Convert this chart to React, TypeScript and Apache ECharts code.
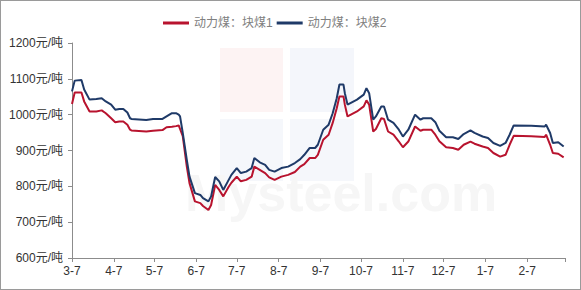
import React, { useEffect, useRef } from "react";
import * as echarts from "echarts";

const seriesNames = ["动力煤：块煤1", "动力煤：块煤2"];

const sampleDates = [
  "2022-03-07", "2022-03-09", "2022-03-14", "2022-03-16", "2022-03-20", "2022-03-25", "2022-03-29",
  "2022-04-01", "2022-04-05", "2022-04-08", "2022-04-11", "2022-04-14", "2022-04-17", "2022-04-19", "2022-04-20",
  "2022-05-01", "2022-05-06", "2022-05-13", "2022-05-16", "2022-05-20", "2022-05-23", "2022-05-25", "2022-05-26",
  "2022-05-28", "2022-05-31", "2022-06-02", "2022-06-06", "2022-06-10", "2022-06-12", "2022-06-16", "2022-06-18",
  "2022-06-21", "2022-06-24", "2022-06-27", "2022-07-01", "2022-07-03", "2022-07-07", "2022-07-10", "2022-07-14",
  "2022-07-18", "2022-07-20", "2022-07-24", "2022-07-28", "2022-07-31", "2022-08-04", "2022-08-09", "2022-08-14",
  "2022-08-19", "2022-08-23", "2022-08-26", "2022-08-30", "2022-09-03", "2022-09-05", "2022-09-09", "2022-09-13",
  "2022-09-16", "2022-09-19", "2022-09-21", "2022-09-24", "2022-09-25", "2022-09-27", "2022-10-04", "2022-10-09",
  "2022-10-11", "2022-10-13", "2022-10-16", "2022-10-18", "2022-10-22", "2022-10-24", "2022-10-27", "2022-10-31",
  "2022-11-04", "2022-11-07", "2022-11-11", "2022-11-16", "2022-11-20", "2022-11-22", "2022-11-28", "2022-12-01",
  "2022-12-04", "2022-12-09", "2022-12-14", "2022-12-18", "2022-12-22", "2022-12-27", "2022-12-30", "2023-01-05",
  "2023-01-09", "2023-01-13", "2023-01-18", "2023-01-22", "2023-01-25", "2023-01-28", "2023-02-10", "2023-02-20",
  "2023-02-21", "2023-02-24", "2023-02-26", "2023-03-02", "2023-03-06",
];

const coal1 = [
  1030, 1062, 1062, 1037, 1009, 1009, 1012,
  1004, 990, 979, 981, 981, 972, 958, 956,
  953, 955, 957, 965, 966, 968, 970, 960,
  940, 855, 809, 758, 753, 745, 734, 748,
  804, 790, 772, 799, 810, 827, 814, 818,
  827, 855, 846, 837, 825, 818, 827, 832,
  840, 855, 862, 879, 879, 888, 930, 944,
  977, 1018, 1051, 1051, 1028, 995, 1009, 1023,
  1040, 1028, 953, 960, 990, 988, 953, 944,
  925, 909, 925, 967, 955, 958, 958, 944,
  926, 909, 907, 902, 916, 925, 919, 911,
  907, 893, 883, 888, 916, 941, 940, 938,
  944, 916, 893, 891, 881,
];

const coal2 = [
  1065, 1095, 1097, 1070, 1042, 1044, 1046,
  1037, 1028, 1014, 1016, 1016, 1006, 990, 988,
  985, 988, 988, 995, 1004, 1004, 1000, 995,
  949, 874, 827, 781, 776, 767, 758, 772,
  826, 814, 790, 818, 832, 851, 837, 841,
  851, 879, 867, 860, 846, 841, 851, 855,
  865, 876, 888, 907, 907, 916, 958, 972,
  1004, 1046, 1084, 1084, 1060, 1028, 1042, 1056,
  1074, 1060, 986, 995, 1023, 1023, 986, 977,
  958, 939, 958, 1000, 986, 990, 990, 979,
  955, 937, 937, 932, 946, 956, 949, 939,
  935, 921, 913, 921, 944, 970, 969, 967,
  972, 949, 921, 923, 911,
];

const yTicks = [600, 700, 800, 900, 1000, 1100, 1200];
const yUnit = "元/吨";
const startDate = "2022-03-07";
const endDate = "2023-03-07";

function buildDays(start: string, end: string): string[] {
  const out: string[] = [];
  const d = new Date(start + "T00:00:00Z");
  const e = new Date(end + "T00:00:00Z");
  while (d.getTime() <= e.getTime()) {
    out.push(d.toISOString().slice(0, 10));
    d.setUTCDate(d.getUTCDate() + 1);
  }
  return out;
}

export default function App() {
  const ref = useRef<HTMLDivElement>(null);
  useEffect(() => {
    document.body.style.margin = "0";
    if (!ref.current) return;
    const chart = echarts.init(ref.current, undefined, { renderer: "svg" });
    const days = buildDays(startDate, endDate);
    const last = days.length - 1;
    const isSeventh = (v: string) => v.slice(8, 10) === "07";
    const font = "'Liberation Sans', 'Noto Sans CJK SC', sans-serif";
    chart.setOption({
      animation: false,
      backgroundColor: "#ffffff",
      graphic: [
        { type: "rect", z: -10, shape: { x: 219, y: 47, width: 63, height: 64 }, style: { fill: "#fdf3f3" }, silent: true },
        { type: "rect", z: -10, shape: { x: 289, y: 47, width: 64, height: 64 }, style: { fill: "#f4f6fb" }, silent: true },
        { type: "rect", z: -10, shape: { x: 219, y: 118, width: 63, height: 62 }, style: { fill: "#f5f7fb" }, silent: true },
        { type: "rect", z: -10, shape: { x: 289, y: 118, width: 64, height: 62 }, style: { fill: "#f5f7fb" }, silent: true },
        {
          type: "text", z: -9, x: 184, y: 166, silent: true,
          style: { text: "Mysteel.com", fill: "#f6f6f6", font: "bold 52px 'Liberation Sans', sans-serif" },
        },
      ],
      legend: {
        top: 11,
        left: 157,
        itemWidth: 26,
        itemHeight: 3,
        itemGap: 4,
        icon: "rect",
        textStyle: { color: "#808080", fontSize: 12, fontFamily: font },
        data: seriesNames,
      },
      grid: { left: 71, right: 15, top: 42, bottom: 31, containLabel: false },
      xAxis: {
        type: "category",
        data: days,
        boundaryGap: false,
        axisLine: { lineStyle: { color: "#8c8c8c" } },
        axisTick: {
          show: true,
          length: 4,
          interval: (i: number, v: string) => isSeventh(v) || i === last,
          lineStyle: { color: "#8c8c8c" },
        },
        axisLabel: {
          interval: (i: number, v: string) => isSeventh(v) && i !== last,
          formatter: (v: string) => `${parseInt(v.slice(5, 7), 10)}-${parseInt(v.slice(8, 10), 10)}`,
          color: "#333",
          fontSize: 12,
          fontFamily: font,
          margin: 7,
        },
        splitLine: { show: false },
      },
      yAxis: {
        type: "value",
        min: yTicks[0],
        max: yTicks[yTicks.length - 1],
        interval: 100,
        axisLine: { show: true, lineStyle: { color: "#8c8c8c" } },
        axisTick: { show: true, length: 4, lineStyle: { color: "#8c8c8c" } },
        axisLabel: {
          formatter: (v: number) => `${v}${yUnit}`,
          color: "#333",
          fontSize: 12,
          fontFamily: font,
          margin: 9,
        },
        splitLine: { show: false },
      },
      series: [
        {
          name: seriesNames[0],
          type: "line",
          showSymbol: false,
          symbol: "none",
          data: sampleDates.map((d, i) => [d, coal1[i]]),
          lineStyle: { color: "#b8132e", width: 2 },
          itemStyle: { color: "#b8132e" },
          z: 3,
        },
        {
          name: seriesNames[1],
          type: "line",
          showSymbol: false,
          symbol: "none",
          data: sampleDates.map((d, i) => [d, coal2[i]]),
          lineStyle: { color: "#1f3a68", width: 2 },
          itemStyle: { color: "#1f3a68" },
          z: 4,
        },
      ],
    });
    return () => chart.dispose();
  }, []);
  return (
    <div
      ref={ref}
      style={{ width: 581, height: 290, boxSizing: "border-box", border: "1px solid #9a9a9a" }}
    />
  );
}
